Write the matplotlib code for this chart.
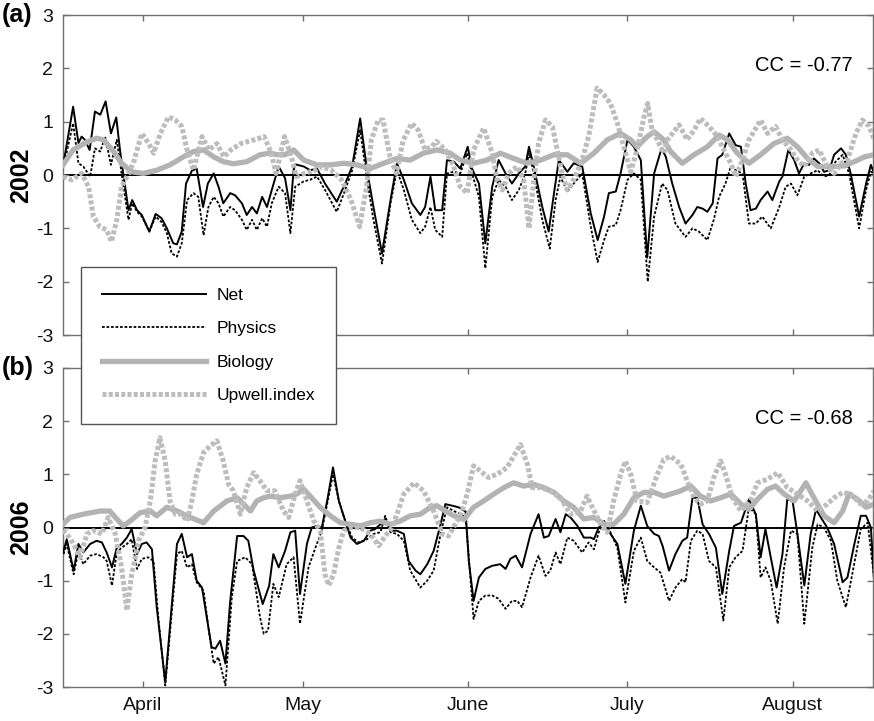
"""Net, physics and biology terms with the upwelling index, 2002 and 2006."""

import numpy as np
import matplotlib
matplotlib.use("Agg")
import matplotlib.pyplot as plt

plt.rcParams['font.family'] = ['Liberation Sans', 'DejaVu Sans']
plt.rcParams['axes.unicode_minus'] = False

# x = day of year, y = standardised value
month_days = [91, 121, 152, 182, 213]
month_names = ['April', 'May', 'June', 'July', 'August']

net_2002 = [(76.1, 0.22), (77.9, 1.28), (78.9, 0.6), (79.5, 0.72), (80.1, 0.66), (81.0, 0.47),
            (82.0, 1.19), (83.0, 1.13), (84.0, 1.38), (85.0, 0.78), (86.0, 1.08), (86.7, 0.47),
            (87.3, 0.03), (88.3, -0.66), (89.0, -0.47), (89.9, -0.66), (90.8, -0.75), (92.2, -1.06),
            (93.4, -0.73), (94.5, -0.81), (95.5, -1.0), (96.7, -1.28), (97.4, -1.3), (98.3, -1.06),
            (99.1, -0.16), (100.2, 0.08), (101.1, 0.12), (102.3, -0.6), (103.2, -0.16), (104.3, 0.03),
            (105.2, -0.22), (106.1, -0.53), (107.4, -0.34), (108.3, -0.38), (109.6, -0.53), (110.5, -0.75),
            (111.5, -0.6), (112.4, -0.72), (113.4, -0.41), (114.3, -0.6), (115.2, -0.28), (116.5, 0.16),
            (117.7, -0.06), (118.7, -0.66), (119.3, 0.09), (119.6, 0.2), (121.2, 0.16), (122.4, 0.09),
            (123.7, 0.12), (125.2, -0.16), (127.4, -0.5), (129.0, -0.16), (130.3, 0.16), (131.8, 1.06),
            (133.1, 0.09), (134.3, -0.6), (135.9, -1.47), (137.5, -0.47), (138.7, 0.22), (140.0, -0.09),
            (141.5, -0.53), (143.1, -0.75), (144.0, -0.6), (145.0, -0.03), (145.9, -0.66), (147.2, -0.66),
            (148.1, 0.28), (149.4, 0.25), (150.6, 0.12), (152.0, 0.53), (152.8, 0.12), (154.1, -0.16),
            (155.3, -1.28), (156.6, -0.22), (157.8, 0.28), (159.1, 0.03), (160.3, -0.16), (161.6, 0.03),
            (162.8, 0.16), (163.5, 0.53), (164.4, 0.16), (166.0, -0.6), (167.2, -1.06), (168.2, -0.34),
            (169.1, 0.28), (170.0, 0.16), (170.7, 0.06), (171.9, 0.22), (173.5, 0.16), (175.1, -0.72),
            (176.4, -1.22), (177.6, -0.78), (178.5, -0.34), (179.8, -0.31), (180.7, 0.03), (182.0, 0.66),
            (183.2, 0.53), (184.5, 0.28), (185.7, -1.55), (187.0, 0.03), (188.4, 0.5), (189.2, 0.34),
            (190.4, -0.16), (191.7, -0.6), (192.9, -0.91), (194.2, -0.75), (195.1, -0.6), (196.1, -0.63),
            (197.0, -0.69), (198.0, -0.53), (198.9, 0.31), (199.8, 0.38), (201.1, 0.78), (202.3, 0.56),
            (203.3, 0.53), (204.2, -0.16), (205.1, -0.66), (206.1, -0.63), (207.0, -0.47), (208.3, -0.31),
            (209.2, -0.47), (210.5, -0.12), (211.1, -0.03), (212.2, 0.47), (213.3, 0.28), (214.2, 0.03),
            (215.2, 0.22), (216.1, 0.19), (217.0, 0.31), (218.0, 0.22), (218.9, 0.06), (219.9, 0.09),
            (220.8, 0.38), (222.1, 0.5), (223.0, 0.38), (223.9, 0.03), (225.5, -0.78), (226.8, -0.16),
            (227.7, 0.19), (228.3, 0.03)]

physics_2002 = [(76.1, 0.16), (77.9, 0.97), (78.9, 0.22), (79.8, 0.16), (81.1, -0.03), (82.0, 0.5),
                (83.0, 0.44), (83.9, 0.72), (85.0, 0.19), (86.1, 0.66), (87.0, 0.03), (88.3, -0.84),
                (89.0, -0.53), (89.9, -0.69), (90.8, -0.78), (92.2, -1.06), (93.4, -0.78), (94.5, -0.88),
                (95.5, -1.09), (96.4, -1.47), (97.4, -1.53), (98.3, -1.28), (99.3, -0.47), (100.5, -0.34),
                (101.4, -0.41), (102.4, -1.13), (103.3, -0.6), (104.3, -0.41), (105.2, -0.53), (106.1, -0.78),
                (107.4, -0.6), (108.3, -0.66), (109.6, -0.84), (110.5, -1.03), (111.5, -0.84), (112.4, -1.03),
                (113.4, -0.81), (114.3, -0.97), (115.2, -0.53), (116.5, -0.22), (117.7, -0.34), (118.7, -1.09),
                (119.6, -0.22), (121.2, -0.12), (122.4, -0.09), (123.7, -0.03), (125.2, -0.28), (127.4, -0.69),
                (129.0, -0.28), (130.3, 0.09), (131.8, 0.84), (133.1, -0.09), (134.3, -0.84), (135.9, -1.66),
                (137.5, -0.53), (138.7, 0.09), (140.0, -0.28), (141.5, -0.84), (143.1, -1.09), (144.0, -0.97),
                (145.0, -0.6), (145.9, -1.03), (147.2, -1.16), (148.1, 0.03), (149.4, 0.06), (150.6, 0.03),
                (151.9, 0.41), (152.8, 0.03), (154.1, -0.41), (155.3, -1.75), (156.6, -0.41), (157.8, -0.09),
                (159.1, -0.22), (160.3, -0.47), (161.6, -0.28), (162.8, 0.03), (163.5, 0.41), (164.4, 0.03),
                (166.0, -0.84), (167.4, -1.38), (168.5, -0.47), (169.4, -0.03), (170.7, -0.31), (171.9, -0.16),
                (173.5, 0.03), (175.1, -0.97), (176.4, -1.63), (177.6, -1.22), (178.5, -0.97), (179.8, -0.94),
                (180.7, -0.66), (182.0, -0.09), (183.2, 0.03), (184.5, -0.09), (185.8, -2.0), (187.0, -0.78),
                (188.5, -0.16), (189.5, -0.28), (191.0, -0.91), (192.9, -1.16), (194.2, -1.0), (195.4, -1.06),
                (197.0, -1.22), (198.2, -0.84), (199.2, -0.41), (200.4, -0.16), (201.4, 0.16), (202.3, 0.09),
                (203.6, 0.03), (204.8, -0.91), (206.1, -0.91), (207.3, -0.78), (208.9, -1.0), (210.5, -0.6),
                (211.7, -0.22), (212.7, -0.16), (213.9, -0.38), (215.2, -0.03), (216.4, 0.03), (217.7, 0.09),
                (218.9, -0.03), (219.9, 0.0), (220.8, 0.22), (222.4, 0.38), (223.6, 0.03), (225.5, -1.0),
                (226.8, -0.28), (227.7, 0.06), (228.3, 0.03)]

biology_2002 = [(76.0, 0.19), (77.9, 0.47), (80.5, 0.62), (82.3, 0.69), (83.6, 0.66), (85.5, 0.44),
                (87.0, 0.22), (88.9, 0.06), (91.1, 0.03), (93.6, 0.09), (96.1, 0.19), (98.6, 0.34),
                (100.5, 0.44), (102.4, 0.47), (104.3, 0.34), (106.1, 0.25), (108.0, 0.21), (110.5, 0.25),
                (113.0, 0.38), (114.9, 0.41), (116.2, 0.38), (117.7, 0.38), (119.3, 0.47), (121.2, 0.28),
                (123.7, 0.19), (126.2, 0.19), (128.7, 0.22), (131.2, 0.19), (133.7, 0.12), (136.2, 0.22),
                (138.7, 0.31), (141.2, 0.28), (143.7, 0.41), (146.2, 0.47), (148.7, 0.41), (150.6, 0.28),
                (153.1, 0.22), (155.6, 0.28), (158.1, 0.41), (160.6, 0.31), (163.1, 0.22), (165.7, 0.28),
                (168.2, 0.38), (170.7, 0.38), (173.2, 0.22), (175.7, 0.41), (178.2, 0.66), (180.7, 0.78),
                (182.6, 0.66), (183.8, 0.53), (185.7, 0.72), (187.0, 0.81), (188.8, 0.66), (190.1, 0.44),
                (192.3, 0.22), (194.5, 0.38), (197.0, 0.53), (199.2, 0.75), (200.8, 0.66), (202.6, 0.41),
                (204.8, 0.22), (207.0, 0.38), (209.5, 0.59), (212.0, 0.69), (213.9, 0.53), (215.8, 0.31),
                (217.7, 0.16), (220.2, 0.16), (222.7, 0.17), (224.6, 0.25), (226.5, 0.34), (228.3, 0.38)]

upwell_2002 = [(76.0, -0.03), (77.6, -0.09), (79.5, 0.03), (80.8, -0.22), (81.7, -0.78), (82.9, -0.97),
               (84.2, -1.03), (85.1, -1.25), (86.1, -0.84), (87.0, -0.22), (88.3, 0.03), (89.2, 0.22),
               (90.8, 0.78), (92.1, 0.59), (93.0, 0.41), (94.3, 0.78), (95.8, 1.09), (97.1, 1.03),
               (98.3, 0.91), (99.3, 0.47), (100.5, 0.09), (102.1, 0.72), (103.4, 0.47), (104.9, 0.59),
               (106.2, 0.34), (107.5, 0.47), (109.4, 0.59), (111.9, 0.66), (113.8, 0.72), (115.1, 0.41),
               (116.0, 0.03), (117.6, 0.72), (118.9, 0.34), (119.8, -0.03), (121.4, 0.03), (123.3, 0.09),
               (124.5, 0.16), (126.4, 0.09), (128.3, -0.09), (130.1, -0.47), (131.7, -0.97), (133.0, -0.22),
               (133.9, 0.66), (135.2, 1.03), (136.1, 1.03), (137.4, 0.34), (138.6, 0.03), (139.9, 0.66),
               (141.5, 0.97), (142.7, 0.84), (144.0, 0.47), (145.2, 0.53), (146.1, 0.63), (147.8, 0.47),
               (149.2, 0.2), (150.6, -0.22), (151.9, -0.34), (153.1, 0.47), (155.0, 0.88), (156.6, 0.41),
               (157.5, -0.09), (158.5, -0.28), (159.7, 0.03), (161.3, 0.16), (162.5, -0.09), (163.5, -1.0),
               (164.4, -0.09), (165.3, 0.59), (166.6, 1.03), (167.9, 0.91), (168.8, 0.47), (169.7, 0.03),
               (170.7, -0.28), (171.9, -0.09), (173.5, 0.28), (174.7, 0.72), (176.3, 1.63), (177.6, 1.5),
               (178.8, 1.34), (180.1, 0.97), (181.3, 0.53), (182.6, 0.06), (183.8, 0.47), (185.1, 1.09),
               (185.8, 1.34), (186.6, 0.84), (187.6, 0.66), (188.8, 0.41), (189.5, 0.66), (191.7, 0.94),
               (193.2, 0.66), (194.5, 0.84), (195.7, 1.06), (197.3, 0.91), (198.9, 0.72), (200.1, 0.47),
               (201.4, 0.22), (202.3, -0.03), (203.6, 0.28), (204.8, 0.66), (207.0, 1.03), (208.3, 0.78),
               (209.8, 0.91), (211.1, 0.66), (212.7, 0.47), (213.9, 0.28), (215.2, 0.16), (216.7, 0.41),
               (218.0, 0.47), (219.5, 0.16), (220.8, 0.03), (222.1, 0.22), (223.3, 0.28), (224.9, 0.78),
               (226.1, 1.03), (227.4, 0.91), (228.3, 0.66)]

net_2006 = [(76.1, -0.44), (76.7, -0.22), (78.0, -0.81), (78.9, -0.31), (79.8, -0.47), (81.1, -0.31),
            (82.3, -0.25), (83.3, -0.28), (84.2, -0.47), (85.2, -0.75), (86.1, -0.38), (87.0, -0.31),
            (88.0, -0.19), (88.9, -0.03), (89.9, -0.5), (90.8, -0.31), (91.7, -0.28), (92.7, -0.41),
            (93.6, -1.5), (95.2, -2.91), (96.4, -1.5), (97.4, -0.31), (98.3, -0.12), (99.3, -0.56),
            (100.2, -0.5), (101.1, -1.0), (102.1, -1.13), (103.0, -1.69), (103.9, -2.25), (104.6, -2.28),
            (105.5, -2.13), (106.5, -2.56), (107.4, -1.38), (108.7, -0.16), (109.9, -0.16), (110.8, -0.25),
            (111.8, -0.81), (113.5, -1.44), (114.7, -1.1), (115.5, -0.5), (116.5, -0.75), (117.7, -0.44),
            (118.7, -0.09), (119.6, -0.06), (120.5, -1.25), (121.8, -0.31), (122.7, 0.0), (123.7, 0.03),
            (124.6, 0.0), (125.6, 0.5), (126.7, 1.13), (127.8, 0.5), (129.0, 0.12), (130.0, -0.19),
            (131.2, -0.31), (132.5, -0.25), (133.7, -0.06), (134.6, -0.03), (135.6, 0.06), (136.5, 0.16),
            (137.5, -0.06), (138.7, -0.06), (140.0, -0.12), (140.9, -0.63), (142.2, -0.81), (143.1, -0.88),
            (144.4, -0.69), (145.6, -0.44), (146.9, 0.06), (147.8, 0.44), (149.1, 0.41), (150.3, 0.38),
            (151.6, 0.3), (152.2, -0.63), (153.1, -1.38), (154.1, -0.94), (155.3, -0.78), (156.6, -0.72),
            (158.1, -0.69), (159.1, -0.78), (160.0, -0.59), (161.0, -0.53), (162.2, -0.75), (163.8, -0.12),
            (165.3, 0.25), (166.3, -0.19), (167.2, -0.16), (168.5, 0.16), (169.4, -0.09), (170.4, 0.25),
            (171.3, 0.19), (172.6, 0.03), (173.8, -0.19), (175.1, -0.19), (175.7, -0.22), (176.6, 0.0),
            (177.6, 0.12), (178.8, -0.12), (180.1, -0.31), (181.6, -1.06), (183.2, -0.06), (184.5, 0.41),
            (185.7, 0.03), (187.0, -0.12), (187.9, -0.16), (188.6, -0.35), (189.8, -0.81), (191.0, -0.5),
            (192.3, -0.25), (193.2, -0.19), (194.2, 0.56), (195.1, 0.56), (196.1, 0.06), (197.3, -0.12),
            (198.6, -0.38), (199.8, -1.25), (201.1, -0.44), (202.0, 0.03), (203.3, 0.09), (204.8, 0.53),
            (206.1, 0.25), (207.0, -0.56), (207.9, -0.03), (208.9, -0.56), (210.0, -1.13), (211.1, -0.5),
            (212.0, 0.53), (213.0, 0.5), (213.9, -0.12), (215.2, -1.09), (216.4, -0.12), (217.4, 0.34),
            (218.3, 0.19), (219.5, 0.0), (220.8, -0.31), (222.4, -1.03), (223.3, -0.94), (224.6, -0.31),
            (225.8, 0.22), (226.8, 0.22), (227.7, 0.0), (228.3, -1.0)]

physics_2006 = [(76.1, -0.5), (76.7, -0.31), (78.0, -0.88), (78.9, -0.44), (79.8, -0.69), (81.1, -0.53),
                (82.3, -0.5), (83.6, -0.56), (84.2, -0.63), (85.2, -1.09), (86.1, -0.47), (87.0, -0.38),
                (88.0, -0.31), (88.9, -0.22), (89.9, -0.78), (90.8, -0.59), (92.0, -0.56), (93.0, -0.63),
                (93.9, -1.69), (95.2, -2.97), (96.4, -1.63), (97.4, -0.5), (98.3, -0.44), (99.3, -0.75),
                (100.2, -0.69), (101.1, -1.03), (102.4, -1.19), (103.3, -1.88), (104.3, -2.56), (105.2, -2.44),
                (106.5, -2.97), (107.7, -1.31), (108.7, -0.63), (110.2, -0.56), (111.5, -0.69), (113.0, -1.69),
                (113.7, -2.0), (114.5, -1.94), (115.5, -1.06), (116.5, -1.31), (118.0, -0.69), (119.3, -0.56),
                (120.5, -1.81), (122.1, -0.75), (123.4, -0.38), (124.6, -0.06), (125.6, 0.44), (126.7, 1.0),
                (127.8, 0.5), (129.0, 0.12), (130.3, -0.19), (131.5, -0.28), (133.1, -0.22), (134.3, -0.12),
                (135.6, -0.09), (136.5, 0.22), (137.5, -0.09), (138.7, -0.12), (140.0, -0.25), (141.2, -0.81),
                (143.1, -1.13), (144.4, -1.0), (145.6, -0.81), (146.9, -0.12), (148.1, 0.38), (149.4, 0.31),
                (150.6, 0.25), (151.6, 0.19), (152.2, -0.56), (153.1, -1.72), (154.1, -1.38), (155.3, -1.28),
                (156.6, -1.28), (157.8, -1.34), (159.1, -1.53), (160.3, -1.38), (161.3, -1.38), (162.2, -1.5),
                (163.8, -0.94), (165.3, -0.53), (166.6, -0.91), (167.5, -0.81), (168.5, -0.47), (169.4, -0.69),
                (170.7, -0.19), (171.9, -0.25), (173.5, -0.47), (174.7, -0.28), (175.7, -0.41), (176.6, -0.09),
                (177.6, 0.09), (178.8, -0.09), (180.1, -0.38), (181.6, -1.41), (183.2, -0.44), (184.5, -0.19),
                (185.7, -0.63), (187.0, -0.75), (188.2, -0.85), (189.8, -1.38), (191.0, -1.13), (192.3, -0.97),
                (192.9, -1.03), (193.9, -0.25), (195.1, -0.06), (196.1, -0.12), (197.3, -0.63), (198.6, -0.75),
                (200.0, -1.75), (201.1, -0.75), (202.3, -0.56), (203.6, -0.44), (204.8, 0.38), (206.1, 0.25),
                (207.0, -0.94), (207.9, -0.75), (208.9, -1.0), (210.2, -1.81), (211.4, -0.75), (212.7, -0.06),
                (213.9, -0.12), (215.2, -1.81), (216.7, -0.38), (217.7, 0.06), (218.9, 0.0), (220.2, -0.25),
                (221.4, -1.0), (223.0, -1.5), (224.2, -0.88), (225.8, -0.03), (227.1, 0.09), (228.3, -0.94)]

biology_2006 = [(76.0, 0.06), (77.3, 0.19), (79.8, 0.25), (83.0, 0.31), (84.8, 0.31), (86.1, 0.16),
                (87.3, 0.03), (88.6, 0.12), (90.5, 0.28), (92.4, 0.31), (93.6, 0.22), (95.5, 0.38),
                (97.4, 0.31), (99.9, 0.19), (102.4, 0.09), (104.3, 0.31), (106.8, 0.5), (108.7, 0.56),
                (109.9, 0.44), (111.2, 0.31), (112.4, 0.5), (113.7, 0.56), (114.9, 0.59), (116.8, 0.56),
                (118.7, 0.59), (119.9, 0.63), (121.2, 0.72), (122.4, 0.59), (124.3, 0.38), (126.2, 0.22),
                (128.1, 0.09), (130.0, 0.06), (131.8, 0.03), (133.7, 0.09), (135.6, 0.12), (137.5, 0.06),
                (139.3, 0.12), (141.2, 0.22), (143.1, 0.25), (145.0, 0.38), (146.2, 0.41), (147.8, 0.31),
                (149.4, 0.22), (151.3, 0.15), (153.1, 0.38), (155.0, 0.5), (156.9, 0.63), (158.8, 0.75),
                (160.6, 0.84), (162.5, 0.78), (164.4, 0.81), (166.3, 0.75), (168.2, 0.66), (170.0, 0.5),
                (171.9, 0.38), (173.8, 0.16), (175.7, 0.19), (177.6, 0.06), (179.4, 0.06), (181.3, 0.25),
                (183.2, 0.56), (185.1, 0.66), (187.0, 0.66), (188.8, 0.59), (190.1, 0.63), (192.0, 0.69),
                (193.9, 0.78), (195.7, 0.59), (197.6, 0.5), (199.5, 0.56), (201.4, 0.63), (203.3, 0.44),
                (204.8, 0.34), (206.4, 0.53), (208.3, 0.72), (209.8, 0.78), (211.4, 0.63), (213.3, 0.5),
                (215.5, 0.84), (217.0, 0.56), (218.9, 0.22), (220.8, 0.09), (222.4, 0.31), (223.6, 0.63),
                (225.2, 0.53), (226.8, 0.38), (228.3, 0.44)]

upwell_2006 = [(76.0, -0.05), (76.7, -0.12), (78.0, -0.31), (79.2, -0.56), (80.5, -0.12), (81.7, -0.06),
               (83.3, -0.12), (84.5, 0.19), (85.8, -0.12), (87.0, -0.75), (88.0, -1.56), (88.9, -0.88),
               (90.2, -0.25), (91.4, 0.0), (92.4, 0.5), (93.3, 1.25), (94.2, 1.69), (95.2, 1.25),
               (96.1, 0.5), (97.1, 0.25), (98.3, 0.25), (99.3, 0.12), (100.2, 0.5), (101.1, 1.0),
               (102.4, 1.41), (103.6, 1.53), (104.9, 1.63), (106.1, 1.25), (107.1, 0.81), (108.0, 0.69),
               (109.3, 0.25), (110.5, 0.75), (111.8, 1.03), (113.0, 0.88), (114.3, 0.69), (115.8, 0.69),
               (117.4, 0.31), (118.4, 0.19), (119.6, 0.63), (120.5, 0.88), (121.8, 0.5), (123.1, 0.12),
               (124.3, -0.06), (125.2, -0.88), (125.9, -1.09), (126.8, -0.88), (127.8, -0.38), (128.7, -0.06),
               (130.0, 0.0), (131.8, 0.0), (133.7, -0.12), (135.3, -0.34), (136.5, -0.16), (137.8, 0.0),
               (138.7, 0.25), (140.0, 0.63), (141.9, 0.84), (143.7, 0.69), (145.6, 0.31), (147.2, -0.12),
               (148.4, -0.16), (150.0, 0.12), (150.9, 0.3), (151.9, 0.63), (153.1, 1.16), (154.4, 1.06),
               (155.9, 0.94), (157.5, 1.0), (159.4, 1.13), (161.9, 1.56), (163.2, 1.19), (164.1, 0.75),
               (165.7, 0.75), (167.5, 0.69), (169.4, 0.56), (171.3, 0.25), (173.2, 0.31), (174.4, 0.59),
               (175.4, 0.38), (177.0, 0.06), (178.2, -0.09), (179.4, 0.5), (180.7, 1.0), (181.6, 1.25),
               (182.6, 1.0), (183.8, 0.5), (185.7, 0.47), (187.6, 1.0), (188.8, 1.28), (190.1, 1.34),
               (192.0, 1.19), (193.2, 0.88), (194.5, 0.56), (195.7, 0.44), (197.0, 0.5), (198.2, 0.94),
               (199.5, 1.25), (200.4, 1.0), (201.7, 0.56), (203.3, 0.31), (205.1, 0.5), (206.4, 0.84),
               (208.3, 0.91), (210.2, 1.03), (212.0, 0.75), (213.9, 0.63), (215.8, 0.5), (217.7, 0.31),
               (219.5, 0.44), (220.8, 0.56), (222.4, 0.66), (223.9, 0.63), (225.8, 0.44), (227.1, 0.5),
               (228.3, 0.69)]

cc_values = ['-0.77', '-0.68']
panel_tags = ['(a)', '(b)']
years = ['2002', '2006']

W, H = 874, 721
fig = plt.figure(figsize=(W / 100, H / 100), dpi=100)
ax_a = fig.add_axes([63 / W, 1 - 335 / H, 810 / W, 320 / H])
ax_b = fig.add_axes([63 / W, 1 - 687 / H, 810 / W, 319 / H])

frame_col = '#707070'
gray = '#b3b3b3'


def draw(ax, net, phys, bio, upw):
    ax.axhline(0, color='k', lw=1.4, zorder=1)
    d, v = np.array(net).T
    ax.plot(d, v, color='k', lw=1.4, label='Net', zorder=3)
    d, v = np.array(phys).T
    ax.plot(d, v, color='k', lw=1.3, ls=(0, (1.5, 1.0)), label='Physics', zorder=3)
    d, v = np.array(bio).T
    ax.plot(d, v, color=gray, lw=3.8, label='Biology', zorder=4, solid_joinstyle='round')
    d, v = np.array(upw).T
    ax.plot(d, v, color='#bdbdbd', lw=3.6, ls=(0, (0.8, 0.45)), label='Upwell.index', zorder=4)


draw(ax_a, net_2002, physics_2002, biology_2002, upwell_2002)
draw(ax_b, net_2006, physics_2006, biology_2006, upwell_2006)

for ax, tag, yr, cc in zip([ax_a, ax_b], panel_tags, years, cc_values):
    ax.set_xlim(76, 228.1)
    ax.set_ylim(-3, 3)
    ax.set_yticks(range(-3, 4))
    ax.set_xticks(month_days)
    ax.set_xticklabels(month_names)
    ax.tick_params(direction='in', length=4.5, width=1, color=frame_col, labelsize=14,
                   pad=7, top=True, right=True, labelcolor='#111111')
    for s in ax.spines.values():
        s.set_color(frame_col)
        s.set_linewidth(1.0)
    ax.set_ylabel(yr, fontsize=18, fontweight='bold')
    ax.yaxis.set_label_coords(-0.037, 0.5)
    ax.text(0.975, 2.05, 'CC = ' + cc, transform=ax.get_yaxis_transform(), ha='right', va='center',
            fontsize=14.5)
    # panel tag sits just left of the top tick label
    top_px = ax.get_position().y1
    fig.text(2 / W, top_px, tag, ha='left', va='center', fontsize=18, fontweight='bold')

ax_a.tick_params(labelbottom=False)

handles, labels = ax_a.get_legend_handles_labels()
leg = fig.legend(handles, labels, loc='upper left', bbox_to_anchor=(81 / W, 1 - 267 / H),
                 borderaxespad=0, fontsize=12.5, handlelength=6.0, handletextpad=0.6,
                 labelspacing=1.05, borderpad=1.2, fancybox=False, framealpha=1)
leg.get_frame().set_edgecolor('#555555')
leg.get_frame().set_linewidth(1.0)

fig.savefig('out.png', dpi=100)
